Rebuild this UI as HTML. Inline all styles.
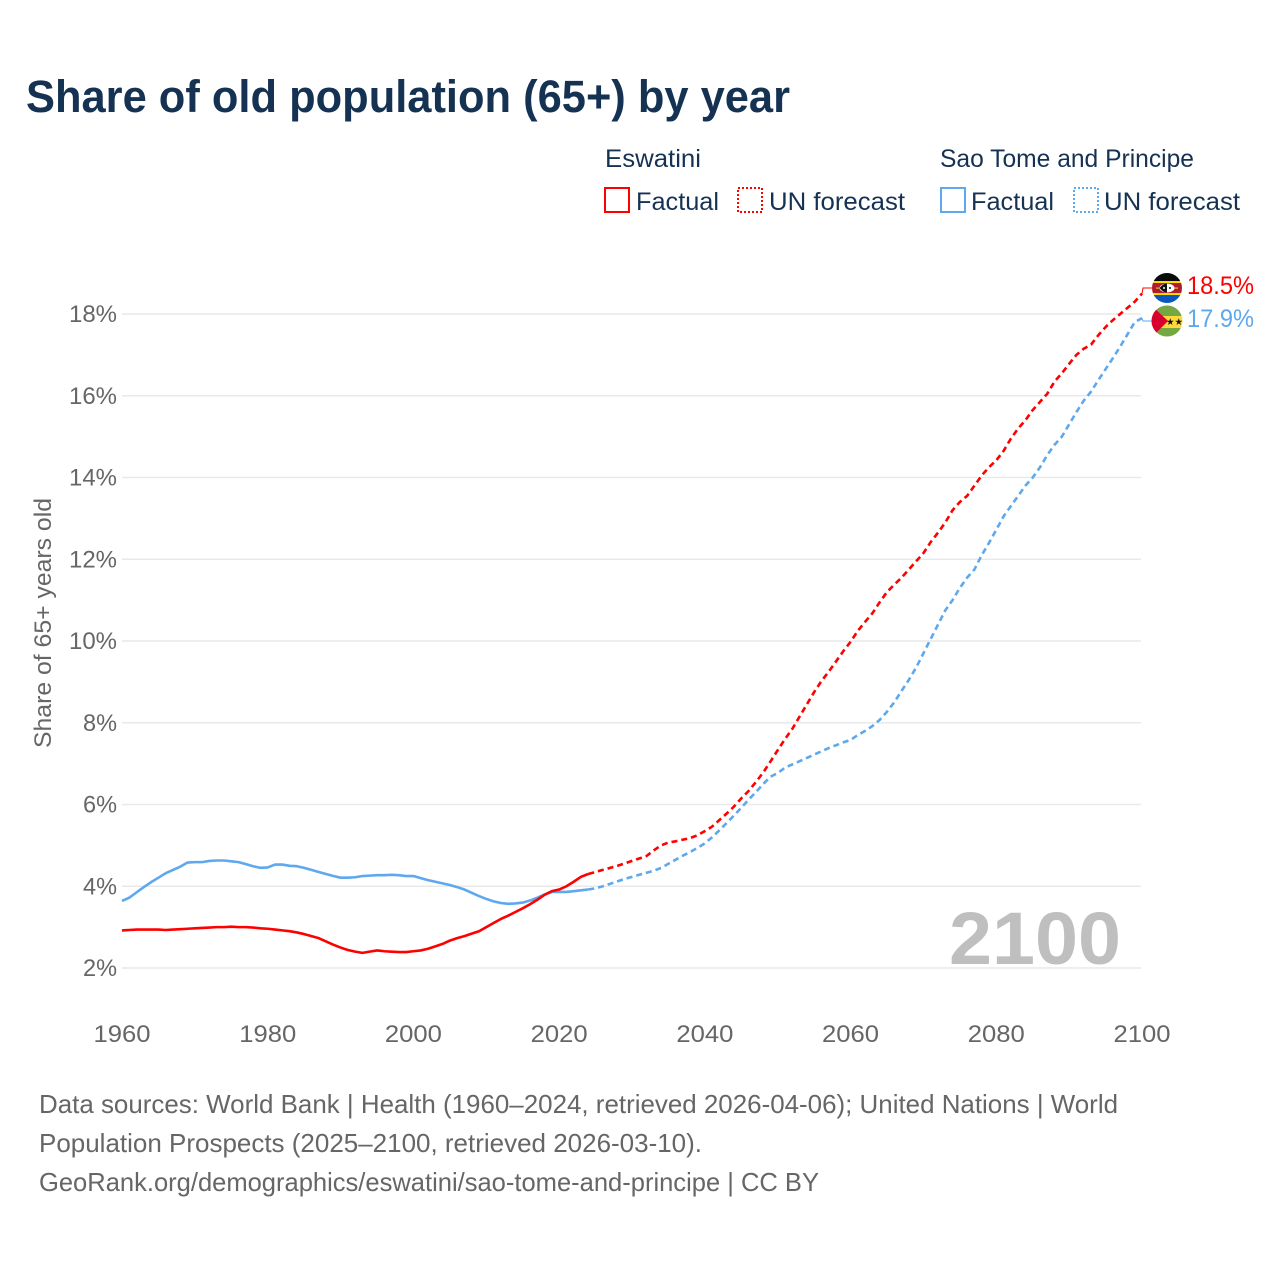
<!DOCTYPE html>
<html lang="en">
<head>
<meta charset="utf-8">
<title>Share of old population (65+) by year</title>
<style>
html,body{margin:0;padding:0;background:#fff;}
svg{display:block;font-family:"Liberation Sans",sans-serif;}
</style>
</head>
<body>
<svg id="chart" width="1280" height="1280" viewBox="0 0 1280 1280" xmlns="http://www.w3.org/2000/svg">
  <rect width="1280" height="1280" fill="#fff"/>
  <text x="26" y="112" font-size="45" font-weight="700" fill="#163253" textLength="764" lengthAdjust="spacingAndGlyphs">Share of old population (65+) by year</text>

  <g id="grid"></g>
  <g id="y-ticks"></g>
  <g id="x-ticks"></g>

  <text transform="translate(51,623) rotate(-90)" text-anchor="middle" font-size="24" fill="#666" textLength="250" lengthAdjust="spacingAndGlyphs">Share of 65+ years old</text>

  <text x="1121" y="964" text-anchor="end" font-size="74" font-weight="700" fill="#bfbfbf" textLength="172" lengthAdjust="spacingAndGlyphs">2100</text>

  <g id="series"></g>

  <g>
    <text x="605" y="167" font-size="25" fill="#163253" textLength="96" lengthAdjust="spacingAndGlyphs">Eswatini</text>
    <rect x="605" y="188" width="24" height="24" fill="none" stroke="#ff0000" stroke-width="2"/>
    <text x="636" y="210" font-size="25" fill="#163253" textLength="83" lengthAdjust="spacingAndGlyphs">Factual</text>
    <rect x="738" y="188" width="24" height="24" fill="none" stroke="#ff0000" stroke-width="2" stroke-dasharray="2 2"/>
    <text x="769" y="210" font-size="25" fill="#163253" textLength="136" lengthAdjust="spacingAndGlyphs">UN forecast</text>

    <text x="940" y="167" font-size="25" fill="#163253" textLength="254" lengthAdjust="spacingAndGlyphs">Sao Tome and Principe</text>
    <rect x="941" y="188" width="24" height="24" fill="none" stroke="#5ea8ee" stroke-width="2"/>
    <text x="971" y="210" font-size="25" fill="#163253" textLength="83" lengthAdjust="spacingAndGlyphs">Factual</text>
    <rect x="1074" y="188" width="24" height="24" fill="none" stroke="#5ea8ee" stroke-width="2" stroke-dasharray="2 2"/>
    <text x="1104" y="210" font-size="25" fill="#163253" textLength="136" lengthAdjust="spacingAndGlyphs">UN forecast</text>
  </g>

  <defs>
    <clipPath id="clip-flag-a"><circle cx="1167" cy="288" r="15"/></clipPath>
    <clipPath id="clip-flag-b"><circle cx="1167" cy="321" r="15.5"/></clipPath>
  </defs>

  <g clip-path="url(#clip-flag-a)">
    <rect x="1150" y="272" width="34" height="9" fill="#0b0b0b"/>
    <rect x="1150" y="281" width="34" height="2" fill="#ffd900"/>
    <rect x="1150" y="283" width="34" height="10" fill="#b01c2e"/>
    <rect x="1150" y="293" width="34" height="2" fill="#ffd900"/>
    <rect x="1150" y="295" width="34" height="10" fill="#0b57c0"/>
    <rect x="1156" y="287.5" width="22" height="1.2" fill="#e8c020"/>
    <ellipse cx="1167" cy="288" rx="7.5" ry="4.5" fill="#fff"/>
    <path d="M1159.5 288 Q1163 283.5 1167 283.5 L1167 292.5 Q1163 292.5 1159.5 288Z" fill="#111"/>
    <circle cx="1164" cy="288" r="1" fill="#fff"/>
    <circle cx="1170" cy="288" r="1" fill="#111"/>
  </g>

  <g clip-path="url(#clip-flag-b)">
    <rect x="1150" y="305" width="34" height="11" fill="#75a843"/>
    <rect x="1150" y="316" width="34" height="12" fill="#ffd83a"/>
    <rect x="1150" y="328" width="34" height="10" fill="#75a843"/>
    <path d="M1151 305 L1168 321 L1151 338Z" fill="#d9002f"/>
    <text x="1174.5" y="325" text-anchor="middle" font-size="9.5" fill="#111" style="font-family:'DejaVu Sans',sans-serif">★★</text>
  </g>

  <text x="1187" y="294" font-size="25" fill="#ff0000" textLength="67" lengthAdjust="spacingAndGlyphs">18.5%</text>
  <text x="1187" y="327" font-size="25" fill="#5ea8ee" textLength="67" lengthAdjust="spacingAndGlyphs">17.9%</text>

  <g font-size="26" fill="#666">
    <text x="39" y="1113" textLength="1079" lengthAdjust="spacingAndGlyphs">Data sources: World Bank | Health (1960–2024, retrieved 2026-04-06); United Nations | World</text>
    <text x="39" y="1152" textLength="663" lengthAdjust="spacingAndGlyphs">Population Prospects (2025–2100, retrieved 2026-03-10).</text>
    <text x="39" y="1191" textLength="780" lengthAdjust="spacingAndGlyphs">GeoRank.org/demographics/eswatini/sao-tome-and-principe | CC BY</text>
  </g>
</svg>

<script>
const xTickLabels = [1960, 1980, 2000, 2020, 2040, 2060, 2080, 2100];
const yTickLabels = [2, 4, 6, 8, 10, 12, 14, 16, 18];
const firstYear = 1960;
const firstForecastYear = 2025;

const eswatiniFactual = [
  2.92,2.93,2.94,2.94,2.94,2.94,2.93,2.94,2.95,2.96,
  2.97,2.98,2.99,3.00,3.00,3.01,3.00,3.00,2.99,2.97,
  2.96,2.94,2.92,2.90,2.87,2.83,2.78,2.73,2.65,2.57,
  2.50,2.44,2.40,2.37,2.40,2.43,2.41,2.40,2.39,2.39,
  2.41,2.43,2.47,2.53,2.59,2.67,2.73,2.78,2.84,2.90,
  3.00,3.10,3.20,3.28,3.37,3.46,3.56,3.67,3.79,3.88,
  3.92,4.00,4.11,4.23,4.30
];
const eswatiniForecast = [
  4.35,4.40,4.45,4.50,4.56,
  4.62,4.68,4.74,4.88,5.00,5.07,5.10,5.14,5.18,5.25,
  5.35,5.46,5.62,5.78,5.95,6.15,6.33,6.55,6.78,7.05,
  7.33,7.60,7.85,8.15,8.45,8.75,9.02,9.25,9.50,9.75,
  9.98,10.25,10.47,10.68,10.95,11.20,11.38,11.55,11.75,11.95,
  12.15,12.42,12.65,12.90,13.20,13.40,13.55,13.80,14.05,14.25,
  14.42,14.65,14.95,15.20,15.40,15.65,15.85,16.05,16.35,16.55,
  16.78,17.00,17.15,17.25,17.48,17.68,17.85,18.00,18.15,18.30,
  18.50
];
const saoTomeFactual = [
  3.64,3.72,3.85,3.98,4.10,4.21,4.32,4.40,4.48,4.58,
  4.59,4.59,4.62,4.63,4.63,4.61,4.59,4.54,4.49,4.45,
  4.46,4.53,4.53,4.50,4.49,4.45,4.40,4.35,4.30,4.25,
  4.21,4.21,4.22,4.25,4.26,4.27,4.27,4.28,4.27,4.25,
  4.25,4.20,4.15,4.11,4.07,4.03,3.98,3.92,3.84,3.76,
  3.69,3.63,3.59,3.57,3.58,3.60,3.65,3.72,3.80,3.86,
  3.86,3.86,3.88,3.90,3.92
];
const saoTomeForecast = [
  3.95,4.00,4.06,4.12,4.18,
  4.23,4.28,4.33,4.38,4.45,4.55,4.65,4.75,4.84,4.94,
  5.05,5.20,5.37,5.55,5.73,5.92,6.12,6.30,6.50,6.68,
  6.77,6.90,6.98,7.06,7.14,7.22,7.30,7.38,7.45,7.52,
  7.58,7.70,7.80,7.92,8.07,8.27,8.50,8.78,9.05,9.35,
  9.70,10.05,10.40,10.75,11.00,11.30,11.55,11.75,12.10,12.40,
  12.72,13.05,13.30,13.55,13.80,14.00,14.25,14.55,14.80,15.00,
  15.30,15.60,15.88,16.10,16.38,16.65,16.92,17.20,17.50,17.80,
  17.90
];

const NS = 'http://www.w3.org/2000/svg';
const xScale = (year) => 122 + (year - 1960) * (1020 / 140);
const yScale = (value) => 968 - (value - 2) * (654 / 16);

function make(tag, parent, attrs) {
  const el = document.createElementNS(NS, tag);
  for (const key in attrs) el.setAttribute(key, attrs[key]);
  parent.appendChild(el);
  return el;
}

const gridGroup = document.getElementById('grid');
const yTickGroup = document.getElementById('y-ticks');
yTickLabels.forEach((v) => {
  const line = make('line', gridGroup, {x1: 122, x2: 1141, y1: yScale(v), y2: yScale(v), stroke: '#e9e9e9', 'stroke-width': 1.5});
  
  
  const label = make('text', yTickGroup, {x: 117, y: yScale(v) + 8, 'text-anchor': 'end', 'font-size': 24, fill: '#666', textLength: v >= 10 ? 48 : 34, lengthAdjust: 'spacingAndGlyphs'});
  
  
  label.textContent = v + '%';
});

const xTickGroup = document.getElementById('x-ticks');
xTickLabels.forEach((y) => {
  const label = make('text', xTickGroup, {x: xScale(y), y: 1042, 'text-anchor': 'middle', 'font-size': 24, fill: '#666', textLength: 57, lengthAdjust: 'spacingAndGlyphs'});
  
  
  label.textContent = y;
});

function pathFrom(values, startYear) {
  return values.map((v, i) => (i ? 'L' : 'M') + xScale(startYear + i).toFixed(2) + ' ' + yScale(v).toFixed(2)).join(' ');
}

const seriesGroup = document.getElementById('series');
function drawSeries(factual, forecast, color, flagY, key) {
  const lastFactual = factual[factual.length - 1];
  const forecastPath = make('path', seriesGroup, {
    d: pathFrom([lastFactual].concat(forecast), firstForecastYear - 1),
    fill: 'none', stroke: color, 'stroke-width': 2.6, 'stroke-dasharray': '6 4', 'stroke-linejoin': 'round'
  });
  
  
  const factualPath = make('path', seriesGroup, {
    d: pathFrom(factual, firstYear),
    fill: 'none', stroke: color, 'stroke-width': 2.6, 'stroke-linejoin': 'round'
  });
  
  
  const endValue = forecast[forecast.length - 1];
  const endX = xScale(firstForecastYear + forecast.length - 1);
  const connector = make('path', seriesGroup, {
    d: 'M' + endX + ' ' + yScale(endValue) + ' L' + (endX + 1) + ' ' + flagY + ' L' + (endX + 10) + ' ' + flagY,
    fill: 'none', stroke: color, 'stroke-width': 1
  });
  
  
}
drawSeries(saoTomeFactual, saoTomeForecast, '#5ea8ee', 321, 'sao-tome');
drawSeries(eswatiniFactual, eswatiniForecast, '#ff0000', 288, 'eswatini');
</script>
</body>
</html>
